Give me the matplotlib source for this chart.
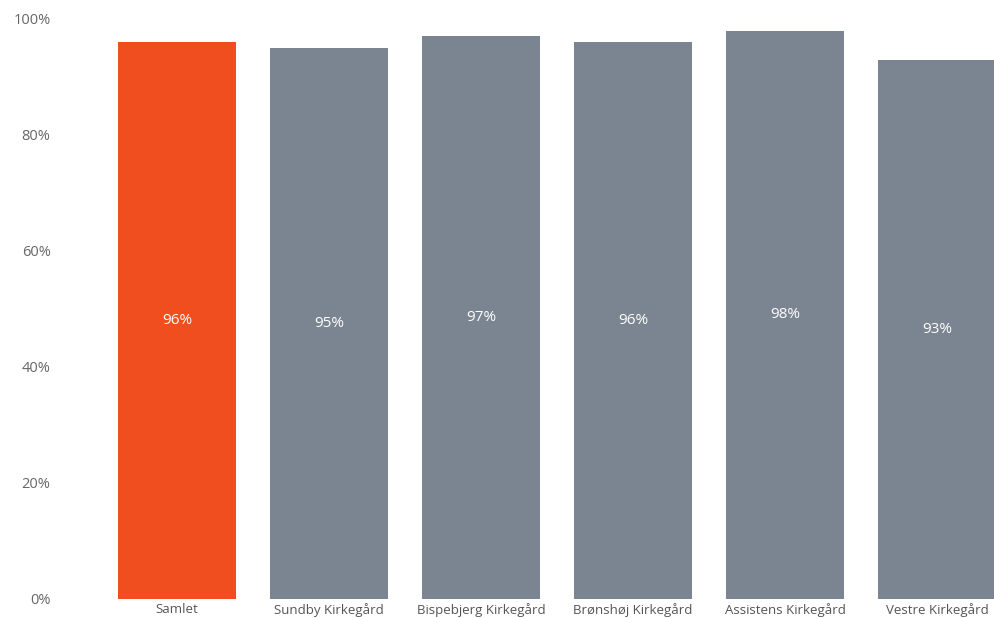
import matplotlib.pyplot as plt
from matplotlib.ticker import PercentFormatter

categories = ['Samlet', 'Sundby Kirkegård', 'Bispebjerg Kirkegård', 'Brønshøj Kirkegård',
              'Assistens Kirkegård', 'Vestre Kirkegård']
values = [96, 95, 97, 96, 98, 93]
colors = ['#F04E1F', '#7B8591', '#7B8591', '#7B8591', '#7B8591', '#7B8591']

plt.rcParams['font.family'] = ['Open Sans', 'DejaVu Sans']

fig = plt.figure(figsize=(9.95, 6.18), dpi=100)
ax = fig.add_axes([70 / 995, 19 / 618, 925 / 995, 580 / 618])

x = list(range(len(categories)))
bars = ax.bar(x, values, width=118 / 152, color=colors)

for xi, v in zip(x, values):
    ax.text(xi, v / 2, f'{v}%', ha='center', va='center', color='white', fontsize=11)

ax.set_xlim((70 - 177) / 152, (995 - 177) / 152)
ax.set_ylim(0, 100)
ax.set_yticks([0, 20, 40, 60, 80, 100])
ax.yaxis.set_major_formatter(PercentFormatter(decimals=0))
ax.set_xticks(x)
ax.set_xticklabels(categories)

ax.tick_params(axis='y', length=0, pad=14, labelsize=10.5, labelcolor='#666666')
ax.tick_params(axis='x', length=0, pad=3, labelsize=9.5, labelcolor='#555555')
for s in ax.spines.values():
    s.set_visible(False)

fig.savefig('out.png', dpi=100)
